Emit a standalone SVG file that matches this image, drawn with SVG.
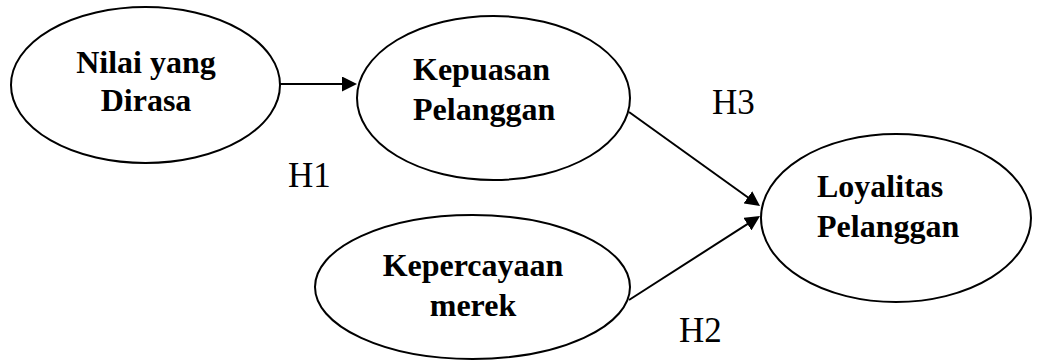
<svg xmlns="http://www.w3.org/2000/svg" width="1037" height="363" viewBox="0 0 1037 363">
<style>
.node ellipse{fill:#fff;stroke:#000;stroke-width:2}
.lbl{font-family:"Liberation Serif","Times New Roman",serif;font-weight:bold;font-size:32px;fill:#000}
.h{font-family:"Liberation Serif","Times New Roman",serif;font-size:35px;fill:#000}
.conn line{stroke:#000;stroke-width:2;fill:none}
</style>
<defs>
<marker id="arr" viewBox="0 0 15 15" refX="5" refY="7.5" markerWidth="15" markerHeight="15" markerUnits="userSpaceOnUse" orient="auto">
<path d="M0,0 L15,7.5 L0,15 z" fill="#000"/>
</marker>
</defs>
<rect width="1037" height="363" fill="#fff"/>
<g id="connectors" class="conn">
<line x1="280" y1="84" x2="347" y2="84" marker-end="url(#arr)"/>
<line x1="629" y1="112" x2="751.9" y2="200.2" marker-end="url(#arr)"/>
<line x1="629" y1="300" x2="751.6" y2="221.4" marker-end="url(#arr)"/>
</g>
<g id="nilai" class="node">
<ellipse cx="145.5" cy="85" rx="134.5" ry="78"/>
<text class="lbl" x="146" y="73" text-anchor="middle">Nilai yang</text>
<text class="lbl" x="146" y="111" text-anchor="middle">Dirasa</text>
</g>
<g id="kepuasan" class="node">
<ellipse cx="493.5" cy="98" rx="136.5" ry="82"/>
<text class="lbl" x="413" y="80">Kepuasan</text>
<text class="lbl" x="413" y="120">Pelanggan</text>
</g>
<g id="loyalitas" class="node">
<ellipse cx="896" cy="218" rx="135" ry="84"/>
<text class="lbl" x="817" y="197">Loyalitas</text>
<text class="lbl" x="817" y="237">Pelanggan</text>
</g>
<g id="kepercayaan" class="node">
<ellipse cx="472.5" cy="287" rx="157.5" ry="72"/>
<text class="lbl" x="473" y="276" text-anchor="middle">Kepercayaan</text>
<text class="lbl" x="473" y="316" text-anchor="middle">merek</text>
</g>
<g id="labels">
<text class="h" x="288" y="187">H1</text>
<text class="h" x="712" y="114">H3</text>
<text class="h" x="679" y="342">H2</text>
</g>
</svg>
